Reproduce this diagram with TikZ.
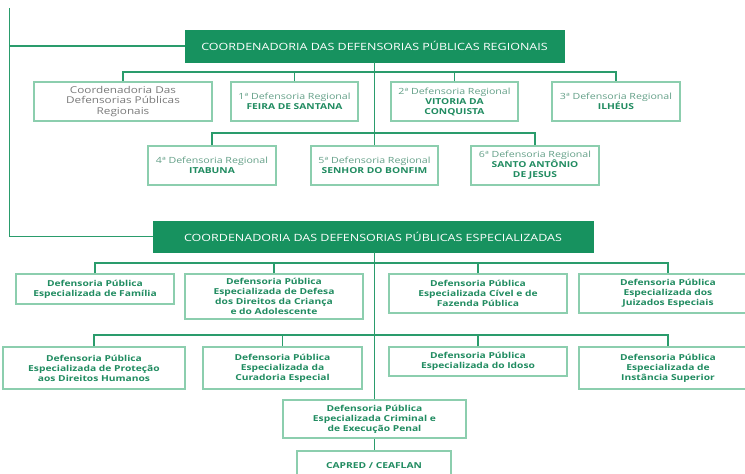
\documentclass[tikz,border=0pt]{standalone}
\usepackage{fontspec}
\setmainfont{Open Sans}[FakeStretch=1.25]
\definecolor{cfill}{HTML}{17925F}
\definecolor{cline}{HTML}{2A9C6C}
\definecolor{cborder}{HTML}{8CCEAE}
\definecolor{ctext}{HTML}{218C61}
\definecolor{creg}{HTML}{64A088}
\definecolor{cgray}{HTML}{7A7A7A}
\begin{document}
\begin{tikzpicture}[x=1pt,y=-1pt,
  titlebox/.style={fill=cfill, draw=cfill, text=white, inner sep=0pt,
    font=\fontsize{10}{12}\selectfont},
  obox/.style={draw=cborder, line width=1.2pt, fill=white, align=center,
    inner sep=0pt, text=ctext, font=\fontsize{8.2}{10}\selectfont\bfseries},
  conn/.style={draw=cline, line width=1.7pt}]
\useasboundingbox (0,0) rectangle (745,474);
\clip (0,0) rectangle (745,474);
\newcommand{\reg}[1]{{\fontsize{8.5}{10}\selectfont\mdseries\color{creg}#1}}
% left line
\coordinate (top) at (9.5,8);
% titles
\node[titlebox, minimum width=379, minimum height=32] (t1) at (374.5,46) {COORDENADORIA DAS DEFENSORIAS PÚBLICAS REGIONAIS};
\node[titlebox, minimum width=440, minimum height=31] (t2) at (373,236.5) {COORDENADORIA DAS DEFENSORIAS PÚBLICAS ESPECIALIZADAS};
% regional boxes
\coordinate (b1) at (0,72);
\coordinate (b2) at (0,133);
\node[obox, minimum width=178, minimum height=39, text=cgray, font=\fontsize{9.4}{10.5}\selectfont] (r0) at (123,101.5) {Coordenadoria Das\\Defensorias Públicas\\Regionais};
\node[obox, minimum width=127, minimum height=39] (r1) at (294.5,101.5) {\reg{1ª Defensoria Regional}\\FEIRA DE SANTANA};
\node[obox, minimum width=127, minimum height=39] (r2) at (454.5,101.5) {\reg{2ª Defensoria Regional}\\VITORIA DA\\CONQUISTA};
\node[obox, minimum width=128, minimum height=39] (r3) at (616,101.5) {\reg{3ª Defensoria Regional}\\ILHÉUS};
\node[obox, minimum width=128, minimum height=39] (r4) at (212,165.5) {\reg{4ª Defensoria Regional}\\ITABUNA};
\node[obox, minimum width=127, minimum height=39] (r5) at (374.5,165.5) {\reg{5ª Defensoria Regional}\\SENHOR DO BONFIM};
\node[obox, minimum width=128, minimum height=39] (r6) at (535,165.5) {\reg{6ª Defensoria Regional}\\SANTO ANTÔNIO\\DE JESUS};
% specialized boxes
\coordinate (b3) at (0,263);
\coordinate (b4) at (0,335);
\node[obox, minimum width=158, minimum height=30] (s1) at (95,289) {Defensoria Pública\\Especializada de Família};
\node[obox, minimum width=178, minimum height=45] (s2) at (274,296.5) {Defensoria Pública\\Especializada de Defesa\\dos Direitos da Criança\\e do Adolescente};
\node[obox, minimum width=178, minimum height=39] (s3) at (478,293.5) {Defensoria Pública\\Especializada Cível e de\\Fazenda Pública};
\node[obox, minimum width=178, minimum height=39] (s4) at (668,293.5) {Defensoria Pública\\Especializada dos\\Juizados Especiais};
\node[obox, minimum width=182, minimum height=42] (s5) at (94,368) {Defensoria Pública\\Especializada de Proteção\\aos Direitos Humanos};
\node[obox, minimum width=159, minimum height=42] (s6) at (282.5,368) {Defensoria Pública\\Especializada da\\Curadoria Especial};
\node[obox, minimum width=178, minimum height=29] (s7) at (478,361.5) {Defensoria Pública\\Especializada do Idoso};
\node[obox, minimum width=178, minimum height=42] (s8) at (668,368) {Defensoria Pública\\Especializada de\\Instância Superior};
\node[obox, minimum width=183, minimum height=38] (s9) at (374.5,419) {Defensoria Pública\\Especializada Criminal e\\de Execução Penal};
\node[obox, minimum width=154, minimum height=30] (s10) at (374,466) {CAPRED / CEAFLAN};
% connectors
\draw[conn] (top) -- (top |- t2.west) -- (t2.west);
\draw[conn] (top |- t1.west) -- (t1.west);
\draw[conn] (t1.south) -- (r5.north);
\draw[conn] (r0.north) -- (r0.north |- b1) -- (r3.north |- b1) -- (r3.north);
\draw[conn] (r1.north) -- (r1.north |- b1);
\draw[conn] (r2.north) -- (r2.north |- b1);
\draw[conn] (r4.north) -- (r4.north |- b2) -- (r6.north |- b2) -- (r6.north);
\draw[conn] (t2.south -| s9.north) -- (s9.north);
\draw[conn] (s9.south) -- (s9.south |- s10.north);
\draw[conn] (s1.north) -- (s1.north |- b3) -- (s4.north |- b3) -- (s4.north);
\draw[conn] (s2.north) -- (s2.north |- b3);
\draw[conn] (s3.north) -- (s3.north |- b3);
\draw[conn] (s5.north) -- (s5.north |- b4) -- (s8.north |- b4) -- (s8.north);
\draw[conn] (s6.north) -- (s6.north |- b4);
\draw[conn] (s7.north) -- (s7.north |- b4);
\end{tikzpicture}
\end{document}
